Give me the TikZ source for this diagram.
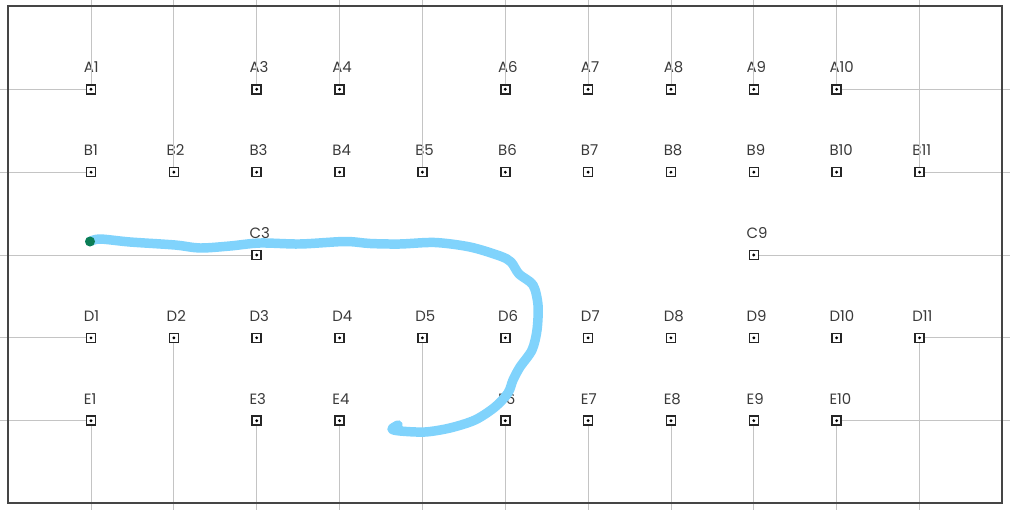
\documentclass[tikz,border=0pt]{standalone}
\usepackage{fontspec}
\setmainfont{Poppins}
\usetikzlibrary{calc}
\definecolor{leadgray}{HTML}{C4C4C4}
\definecolor{framegray}{HTML}{454545}
\definecolor{pathblue}{HTML}{80D3FC}
\definecolor{startgreen}{HTML}{0B7D55}
\definecolor{labelgray}{HTML}{3A3A3A}

\tikzset{
  pad/.style={draw=black!85, line width=0.9pt, minimum size=0.18cm, inner sep=0pt, fill=white},
  padlabel/.style={anchor=base west, inner sep=0pt, font=\fontsize{8.5}{10}\selectfont, text=labelgray},
  lead/.style={draw=leadgray, line width=0.5pt},
  track/.style={draw=pathblue, line width=5.4pt, line cap=round, line join=round}
}

\begin{document}
\begin{tikzpicture}[x=0.02cm, y=-0.02cm]
\useasboundingbox (0,0) rectangle (1010,510);

% edges of the picture
\coordinate (top) at (0,0);
\coordinate (bot) at (0,510);
\coordinate (lft) at (0,0);
\coordinate (rgt) at (1010,0);

% pads
\foreach \row/\r/\cols in {A/0/{1,3,4,6,7,8,9,10}, B/1/{1,...,11}, C/2/{3,9}, D/3/{1,...,11}, E/4/{1,3,4,6,7,8,9,10}} {
  \foreach \c in \cols {
    \node[pad] (\row\c) at ({91+82.85*(\c-1)}, {89.3+82.85*\r}) {};
    \fill (\row\c) circle (0.032cm);
    \node[padlabel] (\row\c-lbl) at ($(\row\c)+(-7.5,-16.6)$) {\row\c};
  }
}

% leads to the edges
\foreach \n in {A1,B2,A3,A4,B5,A6,A7,A8,A9,A10,B11}
  \draw[lead] (\n.north) -- (\n.north |- top);
\foreach \n in {E1,D2,E3,E4,D5,E6,E7,E8,E9,E10,D11}
  \draw[lead] (\n.south) -- (\n.south |- bot);
\foreach \n in {A1,B1,C3,D1,E1}
  \draw[lead] (\n.west) -- (\n.west -| lft);
\foreach \n in {A10,B11,C9,D11,E10}
  \draw[lead] (\n.east) -- (\n.east -| rgt);

% frame
\draw[framegray, line width=0.7pt] (8,6) rectangle (1002,503);

% track
\coordinate (start) at (90,241.5);
\draw[track] plot[smooth, tension=0.5] coordinates {(start) (100,239) (130,242) (175,245) (200,248) (230,246) (260,243) (300,244) (345,241.5) (370,243.5) (400,244) (435,242.5) (470,247) (500,256) (511,262) (519,274) (533,285) (538,305) (537,330) (532,350) (520,367) (513,380) (508,393) (495,407) (475,420) (450,428) (425,432) (400,431) (392,429) (398,425)};
\fill[startgreen] (start) circle (0.1cm);
\end{tikzpicture}
\end{document}
